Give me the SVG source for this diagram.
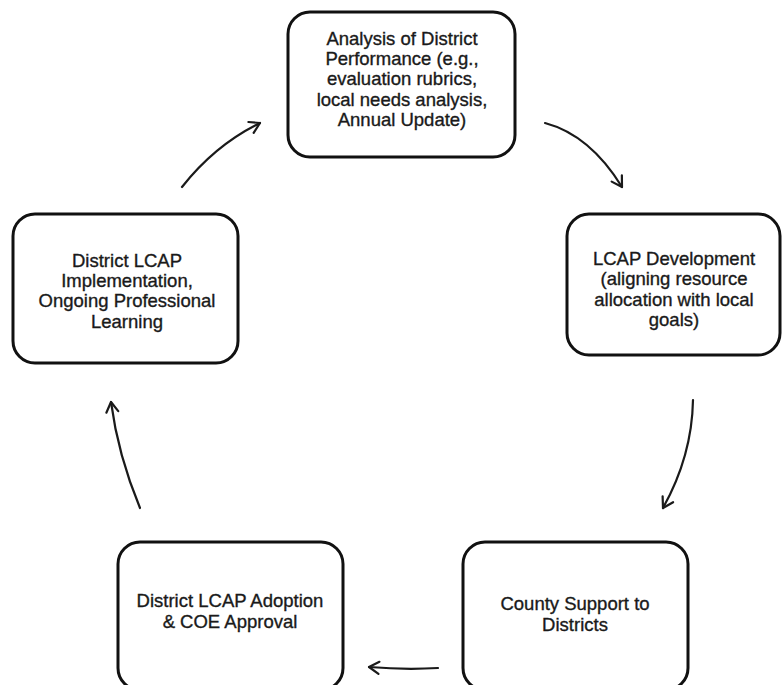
<svg xmlns="http://www.w3.org/2000/svg" width="783" height="685" viewBox="0 0 783 685">
  <defs>
    <marker id="arr" markerWidth="14" markerHeight="14" refX="12" refY="7" orient="auto" markerUnits="userSpaceOnUse" overflow="visible">
      <path d="M2,1 L12,7 L2,13" fill="none" stroke="#1a1a1a" stroke-width="2.2" stroke-linecap="round" stroke-linejoin="round"/>
    </marker>
  </defs>
  <style>
    .box { fill: #ffffff; stroke: #111111; stroke-width: 3; }
    .lbl { font-family: "Liberation Sans", Arial, sans-serif; font-size: 18.5px; fill: #1a1a1a; stroke: #1a1a1a; stroke-width: 0.35; text-anchor: middle; }
    .conn { fill: none; stroke: #1a1a1a; stroke-width: 2.2; stroke-linecap: round; marker-end: url(#arr); }
  </style>
  <rect width="783" height="685" fill="#ffffff"/>

  <g id="analysis">
    <rect class="box" x="288" y="12" width="227" height="145" rx="22"/>
    <text class="lbl" x="402" y="45">Analysis of District</text>
    <text class="lbl" x="402" y="65">Performance (e.g.,</text>
    <text class="lbl" x="402" y="85">evaluation rubrics,</text>
    <text class="lbl" x="402" y="106">local needs analysis,</text>
    <text class="lbl" x="402" y="126">Annual Update)</text>
  </g>

  <g id="development">
    <rect class="box" x="567" y="214" width="213" height="141" rx="22"/>
    <text class="lbl" x="674" y="265">LCAP Development</text>
    <text class="lbl" x="674" y="285">(aligning resource</text>
    <text class="lbl" x="674" y="306">allocation with local</text>
    <text class="lbl" x="674" y="326">goals)</text>
  </g>

  <g id="county-support">
    <rect class="box" x="463" y="542" width="225" height="148" rx="22"/>
    <text class="lbl" x="575" y="610">County Support to</text>
    <text class="lbl" x="575" y="631">Districts</text>
  </g>

  <g id="adoption">
    <rect class="box" x="118" y="542" width="225" height="148" rx="22"/>
    <text class="lbl" x="230" y="607">District LCAP Adoption</text>
    <text class="lbl" x="230" y="628">&amp; COE Approval</text>
  </g>

  <g id="implementation">
    <rect class="box" x="13" y="214" width="225" height="149" rx="22"/>
    <text class="lbl" x="127" y="267">District LCAP</text>
    <text class="lbl" x="127" y="287">Implementation,</text>
    <text class="lbl" x="127" y="307">Ongoing Professional</text>
    <text class="lbl" x="127" y="328">Learning</text>
  </g>

  <g id="connectors">
    <path class="conn" d="M182,187 Q215,145 260,123"/>
    <path class="conn" d="M545,123 Q590,135 622,187"/>
    <path class="conn" d="M693,400 Q692,456 663,508"/>
    <path class="conn" d="M438,668 Q405,670 369,667"/>
    <path class="conn" d="M140,508 Q118,455 111,402"/>
  </g>
</svg>
